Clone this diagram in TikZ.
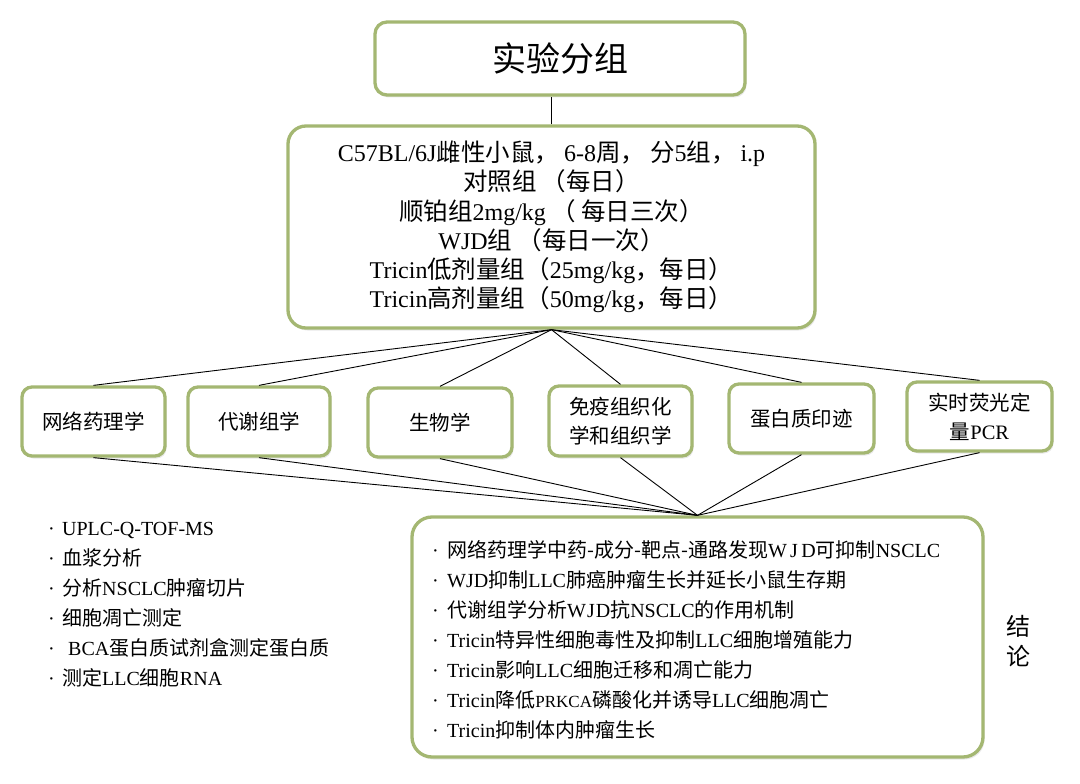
\documentclass[tikz,border=0pt]{standalone}
\usepackage{fontspec}
\setmainfont{Noto Sans CJK SC}
\newfontfamily\latf{Liberation Serif}
\newcommand\ltn[1]{{\latf #1}}
\newcommand\bul{\makebox[15pt][l]{\latf ·}}
\newcommand\cm{，\hspace{5pt}}
\usetikzlibrary{shadows}
\definecolor{boxgreen}{HTML}{A4B772}
\tikzset{
  box/.style={draw=boxgreen, line width=3.3pt, rounded corners=12pt, fill=white,
    inner sep=0pt, align=center,
    drop shadow={shadow xshift=1.5pt, shadow yshift=-2.5pt, opacity=0.18}},
  rowbox/.style={box, rounded corners=10pt, font=\fontsize{20.5}{29}\selectfont},
  link/.style={draw=black, line width=0.9pt},
  listtext/.style={align=left, inner sep=0pt, anchor=west, font=\fontsize{20}{30}\selectfont},
}
\begin{document}
\begin{tikzpicture}[x=1pt,y=-1pt]
\useasboundingbox (0,0) rectangle (1080,784);
\fill[white] (0,0) rectangle (1080,784);

% top boxes
\node[box, minimum width=370pt, minimum height=73pt, font=\fontsize{34}{40}\selectfont] (title) at (560,58.5) {实验分组};
\node[box, rounded corners=18pt, minimum width=527pt, minimum height=202pt, font=\fontsize{24.5}{29.2}\selectfont] (mid) at (551.5,227)
  {{\latf\fontsize{24}{29.2}\selectfont C57BL/6J}雌性小鼠\cm\ltn{\fontsize{24}{29.2}\selectfont 6-8}周\cm 分\ltn{\fontsize{24}{29.2}\selectfont 5}组\cm\ltn{\fontsize{24}{29.2}\selectfont i.p}\\
   对照组 （每日）\\
   顺铂组\ltn{\fontsize{24}{29.2}\selectfont 2mg/kg} （ 每日三次）\\
   \ltn{\fontsize{24}{29.2}\selectfont WJD}组 （每日一次）\\
   \ltn{\fontsize{24}{29.2}\selectfont Tricin}低剂量组（\ltn{\fontsize{24}{29.2}\selectfont 25mg/kg}，每日）\\
   \ltn{\fontsize{24}{29.2}\selectfont Tricin}高剂量组（\ltn{\fontsize{24}{29.2}\selectfont 50mg/kg}，每日）};

% row of method boxes
\node[rowbox, minimum width=143pt, minimum height=69pt] (b1) at (93.5,421.5) {网络药理学};
\node[rowbox, minimum width=142pt, minimum height=69pt] (b2) at (259,421.5) {代谢组学};
\node[rowbox, minimum width=144pt, minimum height=69pt] (b3) at (440,422.5) {生物学};
\node[rowbox, minimum width=143pt, minimum height=70pt] (b4) at (620.5,421) {免疫组织化\\学和组织学};
\node[rowbox, minimum width=145pt, minimum height=69pt] (b5) at (801.5,418.5) {蛋白质印迹};
\node[rowbox, minimum width=145pt, minimum height=69pt] (b6) at (979.5,416.5) {实时荧光定\\量\ltn{PCR}};

% conclusion box
\node[box, rounded corners=20pt, minimum width=571pt, minimum height=240pt] (conc) at (697.5,637) {};
\node[listtext] (conclist) at (432,640) {%
  \bul 网络药理学中药-成分-靶点-通路发现\ltn{W\,J\,D}可抑制\ltn{NSCLC}\\
  \bul \ltn{WJD}抑制\ltn{LLC}肺癌肿瘤生长并延长小鼠生存期\\
  \bul 代谢组学分析\ltn{W\kern1pt J\kern1pt D}抗\ltn{NSCLC}的作用机制\\
  \bul \ltn{Tricin}特异性细胞毒性及抑制\ltn{LLC}细胞增殖能力\\
  \bul \ltn{Tricin}影响\ltn{LLC}细胞迁移和凋亡能力\\
  \bul \ltn{Tricin}降低{\latf\fontsize{17}{30}\selectfont PRKCA}磷酸化并诱导\ltn{LLC}细胞凋亡\\
  \bul \ltn{Tricin}抑制体内肿瘤生长};
\node[align=center, inner sep=0pt, font=\fontsize{24}{30}\selectfont] (concl) at (1018,641) {结\\论};

% left method list
\node[listtext] (methods) at (48,605) {%
  \makebox[14pt][l]{\latf ·}\ltn{UPLC-Q-TOF-MS}\\
  \makebox[14pt][l]{\latf ·}血浆分析\\
  \makebox[14pt][l]{\latf ·}分析\ltn{NSCLC}肿瘤切片\\
  \makebox[14pt][l]{\latf ·}细胞凋亡测定\\
  \makebox[20pt][l]{\latf ·}\ltn{BCA}蛋白质试剂盒测定蛋白质\\
  \makebox[14pt][l]{\latf ·}测定\ltn{LLC}细胞\ltn{RNA}};

% connectors
\draw[link] (mid.north) -- (mid.north |- title.south);
\foreach \b in {b1,b2,b3,b4,b5,b6}{
  \draw[link] (mid.south) -- (\b.north);
  \draw[link] (\b.south) -- (conc.north);
}
\end{tikzpicture}
\end{document}
